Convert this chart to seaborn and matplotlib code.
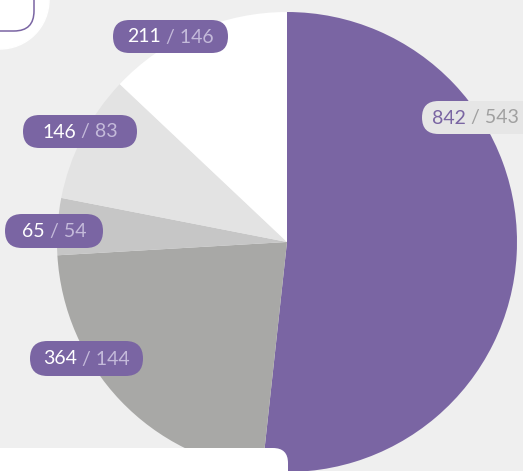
import matplotlib
matplotlib.use("Agg")
import matplotlib.pyplot as plt
from matplotlib.patches import FancyBboxPatch, Circle
import seaborn as sns

# slice values (clockwise from 12 o'clock) and the second number shown in each label
values = [842, 364, 65, 146, 211]
secondary = [543, 144, 54, 83, 146]
slice_colors = ["#7a65a3", "#a8a8a6", "#c6c6c6", "#e3e3e3", "#ffffff"]

# label pills: (left, top, width, height) in pixel coords, top-down
label_boxes = [(422, 101, 118, 33), (30, 341, 113, 35), (5, 214, 98, 34),
               (23, 115, 114, 33), (113, 20, 115, 33)]

W, H = 523, 471
BG = "#efefef"
PURPLE = "#7a65a3"
FS = 14

sns.set_style("white")
plt.rcParams["font.family"] = ["Lato", "DejaVu Sans"]

fig = plt.figure(figsize=(W / 100, H / 100), dpi=100, facecolor=BG)
ax = fig.add_axes([0, 0, 1, 1])
ax.set_facecolor(BG)

# top-left decoration: white disc with a purple outlined icon
ax.add_patch(Circle((0, H), 49, color="white", zorder=1))
ax.add_patch(FancyBboxPatch((-40, H - 31), 74, 60, boxstyle="round,pad=0,rounding_size=20",
                            fc="none", ec=PURPLE, lw=1.1, zorder=2))

ax.pie(values, colors=slice_colors, startangle=90, counterclock=False,
       center=(287, H - 242), radius=230, wedgeprops=dict(linewidth=0), frame=True)

# white card at the bottom
ax.add_patch(FancyBboxPatch((-30, -40), 318, 40 + (H - 448), boxstyle="round,pad=0,rounding_size=15",
                            fc="white", ec="none", zorder=5))

ax.set_xlim(0, W)
ax.set_ylim(0, H)
ax.set_aspect("equal")
ax.set_axis_off()

pairs = []
for i, (v, s) in enumerate(zip(values, secondary)):
    x0, top, w, h = label_boxes[i]
    if i == 0:
        fc, c1, c2 = "#e6e6e6", PURPLE, "#a0a0a0"
    else:
        fc, c1, c2 = PURPLE, "white", "#c4bada"
    ax.add_patch(FancyBboxPatch((x0, H - top - h), w, h, boxstyle=f"round,pad=0,rounding_size={h / 2}",
                                fc=fc, ec="none", zorder=6))
    yb = H - top - h / 2 - 6
    t1 = ax.text(x0, yb, f"{v}", ha="left", va="baseline", color=c1,
                 fontsize=FS, fontweight="normal", zorder=7)
    t2 = ax.text(x0, yb, f" / {s}", ha="left", va="baseline", color=c2,
                 fontsize=FS, fontweight="normal", zorder=7)
    pairs.append((t1, t2, x0, w, i == 0))

# place the two parts of each label next to each other, centred in the pill
fig.canvas.draw()
r = fig.canvas.get_renderer()
for t1, t2, x0, w, left_aligned in pairs:
    w1 = t1.get_window_extent(r).width
    w2 = t2.get_window_extent(r).width
    start = x0 + 10 if left_aligned else x0 + (w - w1 - w2) / 2
    t1.set_x(start)
    t2.set_x(start + w1)

fig.savefig("out.png", dpi=100, facecolor=BG)
